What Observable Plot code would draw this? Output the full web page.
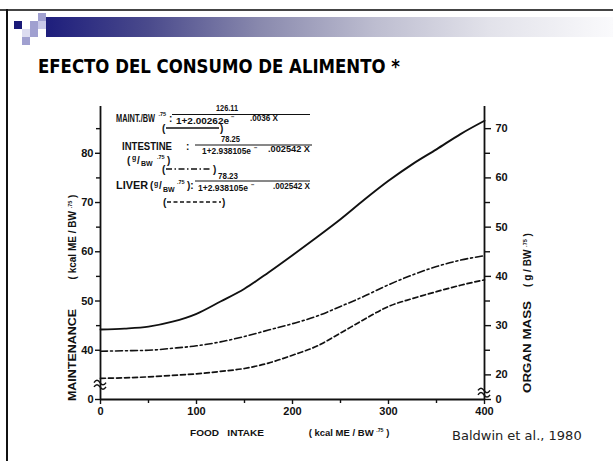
<!DOCTYPE html>
<html><head><meta charset="utf-8">
<script src="https://cdn.jsdelivr.net/npm/d3@7"></script>
<script src="https://cdn.jsdelivr.net/npm/@observablehq/plot@0.6"></script>
<style>
body{margin:0;background:#fff}
#slide{position:relative;width:613px;height:461px;overflow:hidden;background:#fff}
.abs{position:absolute}
#chart{position:absolute;left:0;top:0}
</style></head><body>
<div id="slide">
  <div class="abs" style="left:0;top:9px;width:613px;height:2px;background:#444"></div>
  <div class="abs" style="left:6px;top:9px;width:2px;height:452px;background:#111"></div>
  <div class="abs" style="left:46px;top:17px;width:567px;height:20px;background:linear-gradient(to right,#1e1e7c 0%,#4a4a8c 18%,#8a8aae 38%,#bdbdd0 58%,#e2e2ea 78%,#fafafc 100%)"></div>
  <div class="abs" style="left:38px;top:13px;width:8px;height:8px;background:#a0a0d0"></div>
  <div class="abs" style="left:14px;top:21px;width:8px;height:8px;background:#1a1a78"></div>
  <div class="abs" style="left:30px;top:21px;width:8px;height:8px;background:#a0a0d0"></div>
  <div class="abs" style="left:38px;top:21px;width:8px;height:8px;background:#c8c8e8"></div>
  <div class="abs" style="left:22px;top:29px;width:8px;height:8px;background:#dcdcf0"></div>
  <div class="abs" style="left:30px;top:29px;width:8px;height:8px;background:#a0a0d0"></div>
  <div class="abs" style="left:22px;top:37px;width:8px;height:8px;background:#a0a0d0"></div>
  <div id="chart"></div>
</div>
<script>
// Food intake (kcal ME / BW^.75)
const intake = [0,25,50,75,100,125,150,175,200,225,250,275,300,325,350,375,400];
// Maintenance (kcal ME / BW^.75) – left axis
const maintenance = [44.2,44.4,44.8,45.8,47.4,49.9,52.5,55.8,59.3,62.9,66.6,70.6,74.4,77.8,80.8,83.9,86.6];
// Organ masses (g / BW^.75) – right axis
const intestine = [24.8,24.9,25.0,25.4,25.9,26.7,27.8,29.1,30.4,31.9,33.9,36.0,38.3,40.3,42.0,43.3,44.2];
const liver = [19.3,19.4,19.6,19.9,20.2,20.7,21.3,22.4,24.0,25.8,28.5,31.3,33.9,35.5,36.9,38.2,39.3];

// right-axis value r sits where left-axis value r + organOffset sits
const organOffset = 15;

const leftTicks = [30,40,50,60,70,80];
const leftTickLabels = ["0","40","50","60","70","80"];
const leftMinor = [45,55,65,75,85];
const rightTicks = [15,20,30,40,50,60,70];
const rightTickLabels = ["0","20","30","40","50","60","70"];
const rightMinor = [25,35,45,55,65];
const xTicks = [0,100,200,300,400];
const xTickLabels = ["0","100","200","300","400"];
const xMinor = [50,150,250,350];

const leftMap = new Map(leftTicks.map((d,i)=>[d,leftTickLabels[i]]));
const rightMap = new Map(rightTicks.map((d,i)=>[d + organOffset,rightTickLabels[i]]));
const xMap = new Map(xTicks.map((d,i)=>[d,xTickLabels[i]]));

const maintRows = intake.map((x,i)=>({x, y: maintenance[i]}));
const intRows = intake.map((x,i)=>({x, y: intestine[i] + organOffset}));
const livRows = intake.map((x,i)=>({x, y: liver[i] + organOffset}));

const ink = "#111";
const chart = Plot.plot({
  width: 613, height: 461,
  marginLeft: 100, marginRight: 129, marginTop: 106, marginBottom: 62,
  style: {background: "transparent", fontFamily: "'Liberation Sans', Arial, sans-serif", fontWeight: "bold", overflow: "visible"},
  x: {domain: [0, 400], axis: null},
  y: {domain: [30, 89.5], axis: null},
  marks: [
    Plot.axisY(leftTicks, {anchor: "left", tickSize: 5, tickPadding: 2, tickFormat: d => leftMap.get(d), fontSize: 11, stroke: ink, fill: ink, strokeWidth: 1.4, label: null}),
    Plot.axisY(leftMinor, {anchor: "left", tickSize: 4, tickFormat: () => "", stroke: ink, strokeWidth: 1.4, label: null}),
    Plot.axisY(rightTicks.map(d => d + organOffset), {anchor: "right", tickSize: 6, tickPadding: 5, tickFormat: d => rightMap.get(d), fontSize: 11, stroke: ink, fill: ink, strokeWidth: 1.4, label: null}),
    Plot.axisY(rightMinor.map(d => d + organOffset), {anchor: "right", tickSize: 5, tickFormat: () => "", stroke: ink, strokeWidth: 1.4, label: null}),
    Plot.axisX(xTicks, {anchor: "bottom", tickSize: 5, tickPadding: 3, tickFormat: d => xMap.get(d), fontSize: 11, stroke: ink, fill: ink, strokeWidth: 1.4, label: null}),
    Plot.axisX(xMinor, {anchor: "bottom", tickSize: 4, tickFormat: () => "", stroke: ink, strokeWidth: 1.4, label: null}),
    Plot.ruleX([0], {stroke: ink, strokeWidth: 1.8}),
    Plot.ruleX([400], {stroke: ink, strokeWidth: 1.8}),
    Plot.ruleY([30], {stroke: ink, strokeWidth: 1.8}),
    Plot.line(maintRows, {x: "x", y: "y", curve: "monotone-x", stroke: ink, strokeWidth: 1.9}),
    Plot.line(intRows, {x: "x", y: "y", curve: "monotone-x", stroke: ink, strokeWidth: 1.6, strokeDasharray: "7,3,2,3"}),
    Plot.line(livRows, {x: "x", y: "y", curve: "monotone-x", stroke: ink, strokeWidth: 1.7, strokeDasharray: "5,3"})
  ]
});
document.getElementById("chart").appendChild(chart);

const sx = chart.scale("x"), sy = chart.scale("y");
const X = v => sx.apply(v), Y = v => sy.apply(v);
const svg = d3.select(chart);
const g = svg.append("g").attr("fill", ink).attr("text-anchor", "start")
  .style("font-family", "'Liberation Sans', Arial, sans-serif").style("font-weight", "bold");
function T(x, y, s, size, o = {}) {
  const t = g.append("text").attr("x", x).attr("y", y).attr("font-size", size).attr("text-anchor", o.anchor || "start").text(s);
  if (o.len) t.attr("textLength", o.len).attr("lengthAdjust", "spacingAndGlyphs");
  if (o.rot) t.attr("transform", `rotate(-90 ${x} ${y})`);
  if (o.weight) t.style("font-weight", o.weight);
  if (o.family) t.style("font-family", o.family);
  if (o.fill) t.attr("fill", o.fill);
  return t;
}
function L(x1, y1, x2, y2, dash, w = 1) {
  g.append("line").attr("x1", x1).attr("y1", y1).attr("x2", x2).attr("y2", y2)
    .attr("stroke", ink).attr("stroke-width", w).attr("stroke-dasharray", dash || null);
}
function rich(x, y, parts, size, rot) {
  const t = g.append("text").attr("x", x).attr("y", y).attr("font-size", size).attr("text-anchor", "middle");
  if (rot) t.attr("transform", `rotate(-90 ${x} ${y})`);
  parts.forEach(p => {
    const s = t.append("tspan").text(p.s);
    if (p.sup) s.attr("font-size", size * 0.55).attr("dy", -size * 0.45);
    if (p.down) s.attr("dy", size * 0.45);
  });
  return t;
}

// title & source
T(38, 73, "EFECTO DEL CONSUMO DE ALIMENTO *", 19.5, {len: 362, family: "'DejaVu Sans Condensed','DejaVu Sans',sans-serif", fill: "#000"});
T(452, 440, "Baldwin et al., 1980", 13, {family: "'DejaVu Sans',sans-serif", weight: "normal", fill: "#222"});

// axis titles
T(76, 355, "MAINTENANCE", 10, {anchor: "middle", rot: true, len: 92});
rich(76, 237, [{s: "( kcal ME / BW "}, {s: ".75", sup: true}, {s: " )", down: true}], 10, true);
T(190, 436, "FOOD   INTAKE", 9.5, {len: 74});
rich(349, 436, [{s: "( kcal ME / BW "}, {s: ".75", sup: true}, {s: " )", down: true}], 9.5, false);
T(531, 347, "ORGAN MASS", 10, {anchor: "middle", rot: true, len: 92});
rich(531, 260, [{s: "( g / BW "}, {s: ".75", sup: true}, {s: " )", down: true}], 10, true);

// axis breaks
function brk(cx, cy) {
  [-2.2, 2.2].forEach(o => {
    g.append("path").attr("d", `M${cx-6},${cy+o+1.5} q3,-4.5 6,0 t6,0`).attr("fill", "none").attr("stroke", ink).attr("stroke-width", 1.5);
  });
}
brk(X(0), Y(33.2));
brk(X(400), Y(31.6));

// legend / equations
T(116, 122, "MAINT./BW", 10, {len: 39});
T(158.5, 115.5, ".75", 5.5);
T(169, 122, ":", 10);
T(216, 110.5, "126.11", 9, {len: 22});
L(172, 114.5, 310, 114.5);
T(176, 123.5, "1+2.00262e", 9, {len: 53});
T(231, 118.5, "\u2212", 6);
T(250, 121, ".0036 X", 9, {len: 28});
T(162, 131.5, "(", 10); L(166, 128, 219, 128, null, 1.4); T(220, 131.5, ")", 10);

T(122, 150, "INTESTINE", 10, {len: 50});
T(186, 150, ":", 10);
T(221, 142, "78.25", 9, {len: 19});
L(195, 145, 312, 145);
T(202, 154, "1+2.938105e", 9, {len: 49});
T(254, 149.5, "\u2212", 6);
T(268, 152, ".002542 X", 9, {len: 42});
T(127, 163.5, "(", 10); T(132, 160, "g", 7); T(137, 163.5, "/", 10); T(141, 166, "BW", 7); T(157, 158.5, ".75", 5.5); T(167, 163.5, ")", 10);
T(162, 172.5, "(", 10); L(166, 169, 212, 169, "6,2.5,1.5,2.5", 1.4); T(213, 172.5, ")", 10);

T(116, 189, "LIVER", 10, {len: 32});
T(150, 189, "(", 10); T(154, 185.5, "g", 7); T(159, 189, "/", 10); T(163, 191.5, "BW", 7); T(177, 183.5, ".75", 5.5); T(187, 189, "):", 10);
T(218, 178.5, "78.23", 9, {len: 20});
L(195, 181, 310, 181);
T(198, 191, "1+2.938105e", 9, {len: 50});
T(251, 186.5, "\u2212", 6);
T(273, 189, ".002542 X", 9, {len: 37});
T(163, 205.5, "(", 10); L(167, 202, 221, 202, "4,2.5", 1.4); T(222, 205.5, ")", 10);
</script>
</body></html>
